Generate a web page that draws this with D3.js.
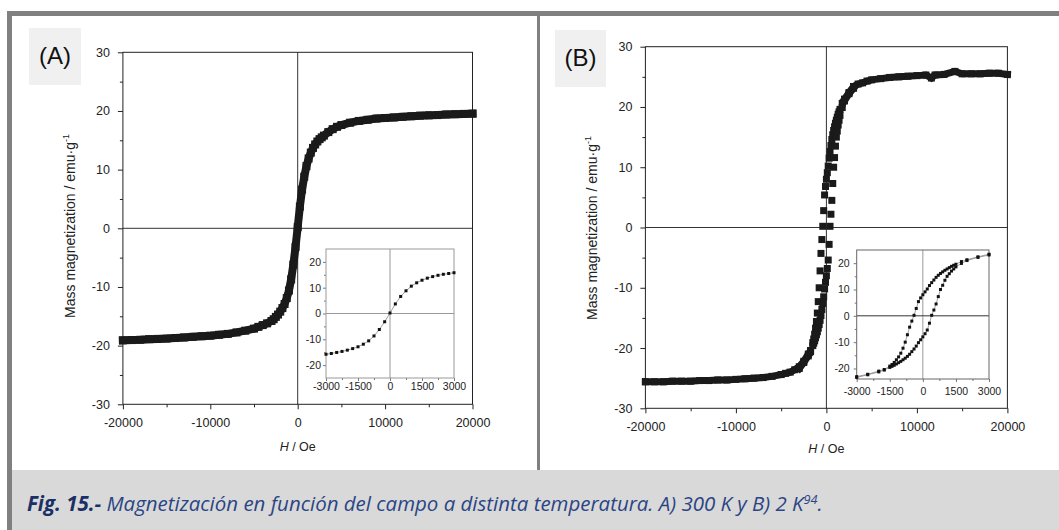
<!DOCTYPE html>
<html>
<head>
<meta charset="utf-8">
<script src="https://cdn.jsdelivr.net/npm/d3@7"></script>
<style>
  body { margin: 0; background: #fff; }
  svg { display: block; }
  text { font-family: "Liberation Sans", Arial, sans-serif; }
</style>
</head>
<body>
<script>
const width = 1059, height = 530;

// (A) 300 K - no hysteresis, one branch
const aH = [-20000,-19000,-18000,-17000,-16000,-15000,-14000,-13000,-12000,-11000,-10000,-9000,-8000,-7000,-6000,-5000,
  -4500,-4000,-3500,-3000,-2750,-2500,-2250,-2000,-1750,-1500,-1250,-1000,-750,-500,-250,0,250,500,750,1000,1250,1500,
  1750,2000,2250,2500,2750,3000,3500,4000,4500,5000,6000,7000,8000,9000,10000,11000,12000,13000,14000,15000,16000,
  17000,18000,19000,20000];
const aM = [-19.1,-19.05,-19.0,-18.9,-18.85,-18.8,-18.7,-18.6,-18.5,-18.4,-18.3,-18.15,-18.0,-17.75,-17.45,-17.1,
  -16.8,-16.5,-16.2,-15.8,-15.5,-15.1,-14.7,-14.2,-13.6,-12.9,-11.9,-10.6,-8.7,-6.2,-3.2,0.2,3.7,6.6,8.8,10.6,11.9,12.9,
  13.7,14.3,14.8,15.2,15.5,15.8,16.4,16.9,17.3,17.6,18.0,18.3,18.5,18.7,18.8,18.9,19.0,19.1,19.2,19.25,19.3,
  19.4,19.45,19.5,19.55];

// (B) 2 K - descending branch (+H -> -H)
const bDownH = [20000,19000,18000,17000,16000,15000,14200,13000,12000,11600,11000,10000,9000,8000,7000,6000,5000,4500,
  4000,3500,3000,2500,2000,1750,1500,1400,1300,1200,1100,1000,900,800,700,600,500,400,300,200,100,0,-100,-200,-300,
  -400,-500,-600,-700,-800,-900,-1000,-1100,-1200,-1300,-1400,-1500,-1750,-2000,-2500,-3000,-3500,-4000,-4500,-5000,
  -6000,-7000,-8000,-9000,-10000,-11000,-12000,-13000,-14000,-15000,-16000,-17000,-18000,-19000,-20000];
const bDownM = [25.4,25.6,25.6,25.5,25.5,25.5,25.9,25.4,25.3,24.8,25.3,25.2,25.1,25.0,24.9,24.7,24.5,24.3,
  24.0,23.8,23.4,22.4,21.3,20.6,19.6,19.2,18.8,18.3,17.8,17.3,16.7,16.1,15.4,14.6,13.6,12.6,11.5,10.2,9.1,8.0,6.8,5.4,2.8,
  0.2,-2.0,-4.3,-7.2,-10.0,-12.3,-14.2,-15.6,-16.7,-17.7,-18.5,-19.1,-20.4,-21.0,-22.2,-23.1,-23.6,-24.0,-24.2,-24.4,
  -24.7,-24.9,-25.0,-25.1,-25.2,-25.3,-25.3,-25.4,-25.4,-25.5,-25.5,-25.5,-25.6,-25.6,-25.6];

// (B) 2 K - ascending branch (-H -> +H), only where it differs
const bUpH = [-3000,-2500,-2000,-1750,-1500,-1400,-1300,-1200,-1100,-1000,-900,-800,-700,-600,-500,-400,-300,-200,-100,
  0,100,200,300,400,500,600,700,800,900,1000,1100,1200,1300,1400,1500,1750,2000,2500,3000];
const bUpM = [-23.4,-22.4,-21.3,-20.6,-19.6,-19.2,-18.8,-18.3,-17.8,-17.3,-16.7,-16.1,-15.4,-14.6,-13.6,-12.6,-11.5,-10.2,-9.1,
  -8.0,-6.8,-5.4,-2.8,0.2,2.2,4.5,7.3,10.0,11.6,13.5,15.0,16.0,17.0,17.8,18.6,19.9,21.0,22.2,23.1];

const mainTicksX = [-20000, -10000, 0, 10000, 20000];
const mainMinorX = [-15000, -5000, 5000, 15000];
const mainTicksY = [-30, -20, -10, 0, 10, 20, 30];
const mainMinorY = [-25, -15, -5, 5, 15, 25];
const insetTicksX = [-3000, -1500, 0, 1500, 3000];
const insetMinorX = [-2250, -750, 750, 2250];
const insetTicksY = [-20, -10, 0, 10, 20];
const insetMinorY = [-15, -5, 5, 15];

const zip = (hs, ms) => hs.map((h, i) => ({ h: h, m: ms[i] }));
const fmt = d => String(d);

const svg = d3.select("body").append("svg")
  .attr("width", width)
  .attr("height", height);

// page frame + caption band
svg.append("rect").attr("x", 12).attr("y", 470).attr("width", width - 12).attr("height", height - 470).attr("fill", "#d9d9d9");
svg.append("rect").attr("x", 7).attr("y", 11).attr("width", width - 7).attr("height", 5).attr("fill", "#808080");
svg.append("rect").attr("x", 7).attr("y", 11).attr("width", 5).attr("height", height - 11).attr("fill", "#808080");
svg.append("rect").attr("x", 537).attr("y", 16).attr("width", 3).attr("height", 454).attr("fill", "#808080");

function styleAxis(g, size) {
  g.select(".domain").remove();
  g.selectAll("line").attr("stroke", "#222");
  g.selectAll("text").attr("font-size", size).attr("fill", "#222")
    .attr("font-family", "'Liberation Sans', Arial, sans-serif");
}

function panel(p) {
  const x = d3.scaleLinear().domain([-20000, 20000]).range([p.left, p.right]);
  const y = d3.scaleLinear().domain([-30, 30]).range([p.bottom, p.top]);
  const g = svg.append("g");

  g.append("rect").attr("x", p.lab[0]).attr("y", p.lab[1]).attr("width", p.lab[2]).attr("height", p.lab[3])
    .attr("fill", "#f0f0f0");
  g.append("text").attr("x", p.lab[0] + p.lab[2] / 2).attr("y", p.labY)
    .attr("text-anchor", "middle").attr("font-size", 24).attr("fill", "#111").text(p.name);

  // zero lines
  g.append("line").attr("x1", x(0)).attr("x2", x(0)).attr("y1", p.top).attr("y2", p.bottom).attr("stroke", "#333");
  g.append("line").attr("x1", p.left).attr("x2", p.right).attr("y1", y(0)).attr("y2", y(0)).attr("stroke", "#333");

  // axes
  g.append("g").attr("transform", `translate(0,${p.bottom})`)
    .call(d3.axisBottom(x).tickValues(mainTicksX).tickSize(5).tickPadding(9).tickFormat(fmt))
    .call(a => styleAxis(a, 12.5));
  g.append("g").attr("transform", `translate(0,${p.bottom})`)
    .call(d3.axisBottom(x).tickValues(mainMinorX).tickSize(3).tickFormat(""))
    .call(a => styleAxis(a, 12.5));
  g.append("g").attr("transform", `translate(${p.left},0)`)
    .call(d3.axisLeft(y).tickValues(mainTicksY).tickSize(5).tickPadding(8).tickFormat(fmt))
    .call(a => styleAxis(a, 12.5));
  g.append("g").attr("transform", `translate(${p.left},0)`)
    .call(d3.axisLeft(y).tickValues(mainMinorY).tickSize(3).tickFormat(""))
    .call(a => styleAxis(a, 12.5));

  g.append("rect").attr("x", p.left).attr("y", p.top).attr("width", p.right - p.left).attr("height", p.bottom - p.top)
    .attr("fill", "none").attr("stroke", "#222");

  // axis titles
  const xt = g.append("text").attr("x", (p.left + p.right) / 2).attr("y", p.xTitleY)
    .attr("text-anchor", "middle").attr("font-size", 12.5).attr("fill", "#222");
  xt.append("tspan").attr("font-style", "italic").text("H");
  xt.append("tspan").text(" / Oe");

  const yt = g.append("text").attr("transform", `translate(${p.yTitleX},${p.yTitleY}) rotate(-90)`)
    .attr("text-anchor", "middle").attr("font-size", 14).attr("fill", "#222");
  yt.append("tspan").text("Mass magnetization / emu\u00b7g");
  yt.append("tspan").attr("font-size", 9).attr("dy", -6).text("-1");

  // data
  p.series.forEach(s => {
    const line = d3.line().x(d => x(d.h)).y(d => y(d.m));
    if (s.band) line.defined(d => Math.abs(d.h) >= s.band);
    g.append("path").datum(s.data).attr("d", line)
      .attr("fill", "none").attr("stroke", "#1a1a1a").attr("stroke-width", p.mark)
      .attr("stroke-linecap", "square");
    g.selectAll(null).data(s.data).enter().append("rect")
      .attr("x", d => x(d.h) - p.mark / 2).attr("y", d => y(d.m) - p.mark / 2)
      .attr("width", p.mark).attr("height", p.mark).attr("fill", "#1a1a1a");
  });
}

function inset(p) {
  const x = d3.scaleLinear().domain([-3000, 3000]).range([p.left, p.right]);
  const y = d3.scaleLinear().domain(p.yDomain).range([p.bottom, p.top]);
  const g = svg.append("g");

  g.append("rect").attr("x", p.left).attr("y", p.top).attr("width", p.right - p.left).attr("height", p.bottom - p.top)
    .attr("fill", "#fff");
  g.append("line").attr("x1", x(0)).attr("x2", x(0)).attr("y1", p.top).attr("y2", p.bottom)
    .attr("stroke", "#999");
  g.append("line").attr("x1", p.left).attr("x2", p.right).attr("y1", y(0)).attr("y2", y(0))
    .attr("stroke", p.zeroColor);

  g.append("g").attr("transform", `translate(0,${p.bottom})`)
    .call(d3.axisBottom(x).tickValues(insetTicksX).tickSize(3).tickPadding(p.xPad).tickFormat(fmt))
    .call(a => styleAxis(a, 10.5));
  g.append("g").attr("transform", `translate(0,${p.bottom})`)
    .call(d3.axisBottom(x).tickValues(insetMinorX).tickSize(2).tickFormat(""))
    .call(a => styleAxis(a, 10.5));
  g.append("g").attr("transform", `translate(${p.left},0)`)
    .call(d3.axisLeft(y).tickValues(insetTicksY).tickSize(3).tickPadding(p.yPad).tickFormat(fmt))
    .call(a => styleAxis(a, 10.5));
  g.append("g").attr("transform", `translate(${p.left},0)`)
    .call(d3.axisLeft(y).tickValues(insetMinorY).tickSize(2).tickFormat(""))
    .call(a => styleAxis(a, 10.5));
  g.selectAll(".tick line").attr("stroke", "#777");

  g.append("rect").attr("x", p.left).attr("y", p.top).attr("width", p.right - p.left).attr("height", p.bottom - p.top)
    .attr("fill", "none").attr("stroke", p.frameColor);

  p.series.forEach(s => {
    const d = s.filter(v => Math.abs(v.h) <= 3000);
    g.append("path").datum(d)
      .attr("d", d3.line().x(v => x(v.h)).y(v => y(v.m)))
      .attr("fill", "none").attr("stroke", "#888").attr("stroke-width", 0.8);
    g.selectAll(null).data(d).enter().append("rect")
      .attr("x", v => x(v.h) - 1.5).attr("y", v => y(v.m) - 1.5)
      .attr("width", 3).attr("height", 3).attr("fill", "#111");
  });
}

const dataA = zip(aH, aM);
const dataBdown = zip(bDownH, bDownM);
const dataBup = zip(bUpH, bUpM);

panel({
  name: "(A)", lab: [29, 28, 52, 57], labY: 64,
  left: 122.9, right: 472.5, top: 52.3, bottom: 404.3,
  xTitleY: 451, yTitleX: 75, yTitleY: 226,
  mark: 8, series: [{ data: dataA }]
});
inset({
  left: 326, right: 454, top: 249, bottom: 378, yDomain: [-25, 25],
  xPad: 2, yPad: 2, zeroColor: "#999", frameColor: "#999",
  series: [dataA]
});

panel({
  name: "(B)", lab: [555, 30, 51, 57], labY: 66,
  left: 645.4, right: 1007.4, top: 46.7, bottom: 408.3,
  xTitleY: 453, yTitleX: 597, yTitleY: 228,
  mark: 7, series: [{ data: dataBdown, band: 2000 }, { data: dataBup, band: 2000 }]
});
inset({
  left: 856.7, right: 989, top: 250, bottom: 379, yDomain: [-24, 25],
  xPad: 6, yPad: 4, zeroColor: "#333", frameColor: "#666",
  series: [dataBdown, dataBup]
});

// caption, sized so it spans the same width as in the figure
const capSize = 18;
const cap = svg.append("text").attr("x", 27).attr("y", 511)
  .attr("font-size", capSize).attr("font-style", "italic").attr("fill", "#2a4584")
  .style("font-family", "'Open Sans', Lato, sans-serif");
cap.append("tspan").attr("font-weight", "bold").attr("fill", "#1a2f66").text("Fig. 15.-");
cap.append("tspan").text(" Magnetización en función del campo a distinta temperatura. A) 300 K y B) 2 K");
const sup = cap.append("tspan").attr("font-size", capSize * 0.62).attr("dy", -7).text("94");
cap.append("tspan").attr("dy", 7).text(".");
const k = 796 / cap.node().getComputedTextLength();
cap.attr("font-size", capSize * k);
sup.attr("font-size", capSize * 0.62 * k);
</script>
</body>
</html>
